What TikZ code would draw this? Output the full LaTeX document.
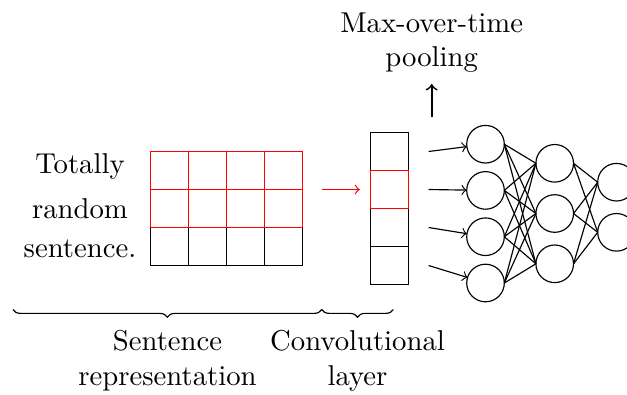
\documentclass[tikz,border=0pt]{standalone}
\usetikzlibrary{decorations.pathreplacing}
\begin{document}
\begin{tikzpicture}[
  x=0.3484pt, y=-0.3484pt,
  cell/.style={draw, line width=0.4pt, minimum size=13.239pt, inner sep=0pt, outer sep=0pt},
  neuron/.style={draw, circle, minimum size=13.1pt, inner sep=0pt, outer sep=0pt},
  lbl/.style={align=center, inner sep=0pt},
  link/.style={line width=0.4pt},
  feed/.style={->, line width=0.4pt},
  brc/.style={decorate, decoration={brace, mirror, amplitude=2.7pt}}
]
\useasboundingbox (0,0) rectangle (627,394);

% sentence words
\node[lbl, anchor=base] (w1) at (80,173) {Totally};
\node[lbl, anchor=base] (w2) at (80,218) {random};
\node[lbl, anchor=base] (w3) at (80,257) {sentence.};

% sentence matrix: bottom row black, upper two rows red (drawn last)
\foreach \c in {0,...,3} {
  \node[cell] (s2\c) at ({169.5+38*\c},246.5) {};
}
\foreach \r in {0,1} {
  \foreach \c in {0,...,3} {
    \node[cell, red] (s\r\c) at ({169.5+38*\c},{170.5+38*\r}) {};
  }
}

% convolutional column
\foreach \r in {0,2,3} {
  \node[cell] (c\r) at (389.5,{151.5+38*\r}) {};
}
\node[cell, red] (c1) at (389.5,189.5) {};

% filter to convolution
\path (s03.east |- c1.west) coordinate (fs);
\draw[feed, red] ([xshift=6.9pt]fs) -- ([xshift=-3.7pt]c1.west);

% network
\foreach \i/\y in {1/144.2,2/190.4,3/236.7,4/283} {
  \node[neuron] (a\i) at (485.5,\y) {};
}
\foreach \i/\y in {1/163.3,2/213.5,3/263.8} {
  \node[neuron] (b\i) at (554.7,\y) {};
}
\foreach \i/\y in {1/182.2,2/232.3} {
  \node[neuron] (o\i) at (616.5,\y) {};
}
\foreach \r [count=\i from 1] in {0,...,3} {
  \draw[feed] ([xshift=7pt]c\r.east) -- (a\i);
}
\foreach \i in {1,...,4} {
  \foreach \j in {1,...,3} {
    \draw[link] (a\i.east) -- (b\j.west);
  }
}
\foreach \j in {1,...,3} {
  \foreach \k in {1,2} {
    \draw[link] (b\j.east) -- (o\k.west);
  }
}

% pooling label (base = baseline of the last line)
\node[lbl, anchor=base] (pool) at (431.7,66.5) {Max-over-time\\pooling};
\coordinate (up0) at (431.7,117);
\coordinate (up1) at (431.7,84);
\draw[->, line width=0.6pt] (up0) -- (up1);

% braces and their labels
\coordinate (br0) at (13,309.5);
\coordinate (br1) at (321.7,309.5);
\coordinate (br2) at (393.3,309.5);
\draw[brc] (br0) -- (br1);
\draw[brc] (br1) -- (br2);
\node[lbl, anchor=base] (sr) at (167.5,385) {Sentence\\representation};
\node[lbl, anchor=base] (cl) at (357.5,385) {Convolutional\\layer};
\end{tikzpicture}
\end{document}
